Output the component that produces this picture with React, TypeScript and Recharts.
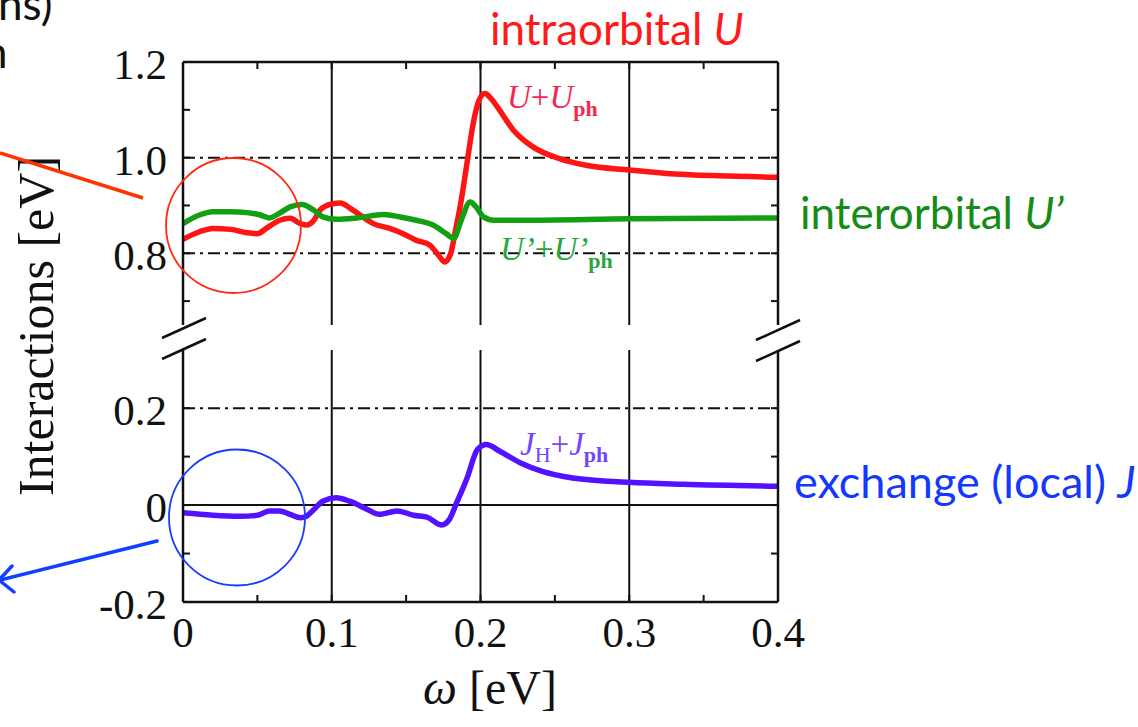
import { Line, LineChart, ReferenceLine, XAxis, YAxis } from 'recharts';

// U + U_ph (intraorbital), upper panel
const omegaIntra = [0, 0.011, 0.02, 0.032, 0.043, 0.05, 0.056, 0.065, 0.072, 0.079, 0.083, 0.088, 0.092, 0.1, 0.106, 0.112, 0.119, 0.128, 0.139, 0.148, 0.157, 0.166, 0.172, 0.176, 0.18, 0.183, 0.187, 0.191, 0.195, 0.199, 0.203, 0.207, 0.212, 0.222, 0.235, 0.253, 0.271, 0.3, 0.325, 0.36, 0.4];
const intraU = [0.829, 0.845, 0.852, 0.85, 0.843, 0.841, 0.852, 0.869, 0.873, 0.862, 0.859, 0.869, 0.89, 0.903, 0.905, 0.895, 0.88, 0.862, 0.852, 0.841, 0.827, 0.817, 0.795, 0.782, 0.8, 0.845, 0.91, 0.99, 1.07, 1.12, 1.134, 1.124, 1.103, 1.058, 1.023, 0.998, 0.984, 0.974, 0.967, 0.962, 0.959];

// U' + U'_ph (interorbital), upper panel
const omegaInter = [0, 0.011, 0.02, 0.032, 0.043, 0.052, 0.058, 0.065, 0.072, 0.08, 0.088, 0.094, 0.103, 0.117, 0.135, 0.146, 0.157, 0.168, 0.177, 0.182, 0.187, 0.193, 0.197, 0.202, 0.209, 0.227, 0.3, 0.4];
const interU = [0.862, 0.88, 0.887, 0.887, 0.885, 0.88, 0.874, 0.884, 0.897, 0.902, 0.89, 0.876, 0.871, 0.874, 0.881, 0.876, 0.869, 0.859, 0.841, 0.831, 0.869, 0.907, 0.897, 0.876, 0.869, 0.869, 0.872, 0.874];

// J_H + J_ph (exchange), lower panel
const omegaExch = [0, 0.02, 0.038, 0.05, 0.058, 0.065, 0.072, 0.079, 0.083, 0.088, 0.094, 0.103, 0.112, 0.124, 0.132, 0.144, 0.155, 0.164, 0.174, 0.179, 0.184, 0.191, 0.198, 0.204, 0.213, 0.227, 0.242, 0.262, 0.3, 0.336, 0.4];
const exchJ = [-0.016, -0.021, -0.023, -0.021, -0.012, -0.012, -0.019, -0.026, -0.023, -0.009, 0.008, 0.015, 0.008, -0.009, -0.019, -0.012, -0.021, -0.025, -0.041, -0.03, 0.005, 0.056, 0.115, 0.125, 0.111, 0.087, 0.069, 0.056, 0.047, 0.043, 0.039];

const xTicks = [0, 0.05, 0.1, 0.15, 0.2, 0.25, 0.3, 0.35, 0.4];
const xLabels = ['0', '0.1', '0.2', '0.3', '0.4'];
const xGrid = [0.1, 0.2, 0.3];
const topYTicks = [0.7, 0.8, 0.9, 1.0, 1.1, 1.2];
const topYLabels = ['0.8', '1.0', '1.2'];
const topDashed = [0.8, 1.0];
const bottomYTicks = [-0.2, -0.1, 0, 0.1, 0.2];
const bottomYLabels = ['-0.2', '0', '0.2'];

const INK = '#111';
const SERIF = "'Liberation Serif', 'Times New Roman', serif";
const SANS = "Lato, 'Liberation Sans', sans-serif";
const DASH_DOT = '12 5 3 5';
const RED = '#ff1414';
const GREEN = '#12a012';
const VIOLET = '#5212ff';

const toPoints = (xs: number[], ys: number[]) => xs.map((w, i) => ({ w, v: ys[i] }));
const intraData = toPoints(omegaIntra, intraU);
const interData = toPoints(omegaInter, interU);
const exchData = toPoints(omegaExch, exchJ);

const fmt = (v: number) => (Math.abs(v) < 1e-9 ? '0' : v.toFixed(1));

const LeftTick = (props: any, labels: string[]) => {
  const { x, y, payload } = props;
  const label = fmt(payload.value);
  return (
    <g>
      <line x1={x} x2={x + 7} y1={y} y2={y} stroke={INK} strokeWidth={2} />
      {labels.includes(label) && (
        <text x={x - 16} y={y + 17} textAnchor="end" fontFamily={SERIF} fontSize={43} fill={INK}>
          {label}
        </text>
      )}
    </g>
  );
};

const RightTick = (props: any) => {
  const { x, y } = props;
  return <line x1={x} x2={x - 7} y1={y} y2={y} stroke={INK} strokeWidth={2} />;
};

const TopTick = (props: any) => {
  const { x, y } = props;
  return <line x1={x} x2={x} y1={y} y2={y + 7} stroke={INK} strokeWidth={2} />;
};

const BottomTick = (props: any) => {
  const { x, y, payload } = props;
  const label = fmt(payload.value);
  const isMajor = Math.abs(payload.value * 10 - Math.round(payload.value * 10)) < 1e-6;
  return (
    <g>
      <line x1={x} x2={x} y1={y} y2={y - 7} stroke={INK} strokeWidth={2} />
      {isMajor && xLabels.includes(label) && (
        <text x={x} y={y + 45} textAnchor="middle" fontFamily={SERIF} fontSize={43} fill={INK}>
          {label}
        </text>
      )}
    </g>
  );
};

const axisStroke = { stroke: INK, strokeWidth: 2.5 };

const App = () => (
  <div style={{ position: 'absolute', left: 0, top: 0, width: 1138, height: 727, background: '#fff', overflow: 'hidden' }}>
    {/* upper panel: 0.65 .. 1.2 */}
    <div style={{ position: 'absolute', left: 0, top: 0 }}>
      <LineChart width={1138} height={335} margin={{ top: 52, right: 350, bottom: 10, left: 103 }}>
        <XAxis
          xAxisId="top"
          orientation="top"
          type="number"
          dataKey="w"
          domain={[0, 0.4]}
          ticks={xTicks}
          interval={0}
          height={10}
          axisLine={axisStroke}
          tickLine={false}
          tickSize={0}
          tickMargin={0}
          tick={TopTick}
          allowDataOverflow
        />
        <YAxis
          yAxisId="l"
          type="number"
          domain={[0.65, 1.2]}
          ticks={topYTicks}
          interval={0}
          width={80}
          axisLine={axisStroke}
          tickLine={false}
          tickSize={0}
          tickMargin={0}
          tick={(p: any) => LeftTick(p, topYLabels)}
          allowDataOverflow
        />
        <YAxis
          yAxisId="r"
          orientation="right"
          type="number"
          domain={[0.65, 1.2]}
          ticks={topYTicks}
          interval={0}
          width={10}
          axisLine={axisStroke}
          tickLine={false}
          tickSize={0}
          tickMargin={0}
          tick={RightTick}
          allowDataOverflow
        />
        {xGrid.map((x) => (
          <ReferenceLine key={`tx${x}`} xAxisId="top" yAxisId="l" x={x} stroke={INK} strokeWidth={2} />
        ))}
        {topDashed.map((y) => (
          <ReferenceLine key={`ty${y}`} xAxisId="top" yAxisId="l" y={y} stroke={INK} strokeWidth={2} strokeDasharray={DASH_DOT} />
        ))}
        <Line
          xAxisId="top"
          yAxisId="l"
          data={intraData}
          dataKey="v"
          type="monotone"
          stroke={RED}
          strokeWidth={5.5}
          dot={false}
          isAnimationActive={false}
        />
        <Line
          xAxisId="top"
          yAxisId="l"
          data={interData}
          dataKey="v"
          type="monotone"
          stroke={GREEN}
          strokeWidth={5.5}
          dot={false}
          isAnimationActive={false}
        />
      </LineChart>
    </div>

    {/* lower panel: -0.2 .. 0.32 */}
    <div style={{ position: 'absolute', left: 0, top: 340 }}>
      <LineChart width={1138} height={330} margin={{ top: 10, right: 350, bottom: 0, left: 103 }}>
        <XAxis
          type="number"
          dataKey="w"
          domain={[0, 0.4]}
          ticks={xTicks}
          interval={0}
          height={68}
          axisLine={axisStroke}
          tickLine={false}
          tickSize={0}
          tickMargin={0}
          tick={BottomTick}
          allowDataOverflow
        />
        <YAxis
          yAxisId="l"
          type="number"
          domain={[-0.2, 0.32]}
          ticks={bottomYTicks}
          interval={0}
          width={80}
          axisLine={axisStroke}
          tickLine={false}
          tickSize={0}
          tickMargin={0}
          tick={(p: any) => LeftTick(p, bottomYLabels)}
          allowDataOverflow
        />
        <YAxis
          yAxisId="r"
          orientation="right"
          type="number"
          domain={[-0.2, 0.32]}
          ticks={bottomYTicks}
          interval={0}
          width={10}
          axisLine={axisStroke}
          tickLine={false}
          tickSize={0}
          tickMargin={0}
          tick={RightTick}
          allowDataOverflow
        />
        {xGrid.map((x) => (
          <ReferenceLine key={`bx${x}`} yAxisId="l" x={x} stroke={INK} strokeWidth={2} />
        ))}
        <ReferenceLine yAxisId="l" y={0.2} stroke={INK} strokeWidth={2} strokeDasharray={DASH_DOT} />
        <ReferenceLine yAxisId="l" y={0} stroke={INK} strokeWidth={2} />
        <Line
          yAxisId="l"
          data={exchData}
          dataKey="v"
          type="monotone"
          stroke={VIOLET}
          strokeWidth={5.5}
          dot={false}
          isAnimationActive={false}
        />
      </LineChart>
    </div>

    {/* annotations */}
    <svg width={1138} height={727} style={{ position: 'absolute', left: 0, top: 0, pointerEvents: 'none' }}>
      <g stroke={INK} strokeWidth={2.5}>
        <line x1={162} y1={338} x2={206} y2={318} />
        <line x1={162} y1={359} x2={206} y2={339} />
        <line x1={756} y1={340} x2={800} y2={320} />
        <line x1={756} y1={361} x2={800} y2={341} />
      </g>

      <text transform="translate(53,326) rotate(-90)" textAnchor="middle" fontFamily={SERIF} fontSize={50} fill={INK}>
        Interactions [eV]
      </text>
      <text x={490} y={704} textAnchor="middle" fontFamily={SERIF} fontSize={48} fill={INK}>
        <tspan fontStyle="italic">ω</tspan> [eV]
      </text>

      <text x={507} y={108} fontFamily={SERIF} fontSize={33} fill="#f2284e">
        <tspan fontStyle="italic">U</tspan>+<tspan fontStyle="italic">U</tspan>
        <tspan fontSize={22} fontWeight="bold" dy={8}>ph</tspan>
      </text>
      <text x={500} y={260} fontFamily={SERIF} fontSize={33} fill="#26a83c">
        <tspan fontStyle="italic">U’</tspan>+<tspan fontStyle="italic">U’</tspan>
        <tspan fontSize={22} fontWeight="bold" dy={8}>ph</tspan>
      </text>
      <text x={520} y={455} fontFamily={SERIF} fontSize={33} fill="#7046ff">
        <tspan fontStyle="italic">J</tspan>
        <tspan fontSize={22} dy={7}>H</tspan>
        <tspan dy={-7}>+</tspan>
        <tspan fontStyle="italic">J</tspan>
        <tspan fontSize={22} fontWeight="bold" dy={7}>ph</tspan>
      </text>

      <text x={490} y={45} fontFamily={SANS} fontSize={44} fill="#ff1a1a">
        intraorbital <tspan fontStyle="italic">U</tspan>
      </text>
      <text x={800} y={229} fontFamily={SANS} fontSize={44} fill="#168c16">
        interorbital <tspan fontStyle="italic">U’</tspan>
      </text>
      <text x={794} y={498} fontFamily={SANS} fontSize={45} fill="#1538ff">
        exchange (local) <tspan fontStyle="italic">J</tspan>
      </text>
      <text x={-2} y={20} fontFamily={SANS} fontSize={44} fill={INK}>
        ns)
      </text>
      <text x={-17} y={68} fontFamily={SANS} fontSize={44} fill={INK}>
        n
      </text>

      <line x1={0} y1={153} x2={143} y2={198} stroke="#ff3300" strokeWidth={3.5} />
      <circle cx={233.5} cy={225.5} r={67.5} fill="none" stroke="#ff2a10" strokeWidth={1.8} />

      <circle cx={237} cy={517.5} r={68} fill="none" stroke="#1a3cff" strokeWidth={1.8} />
      <g stroke="#1040ff" strokeWidth={3.5} fill="none" strokeLinecap="round">
        <line x1={157} y1={541} x2={0} y2={580} />
        <polyline points="12,566 -1,580 14,592" />
      </g>
    </svg>
  </div>
);

export default App;
